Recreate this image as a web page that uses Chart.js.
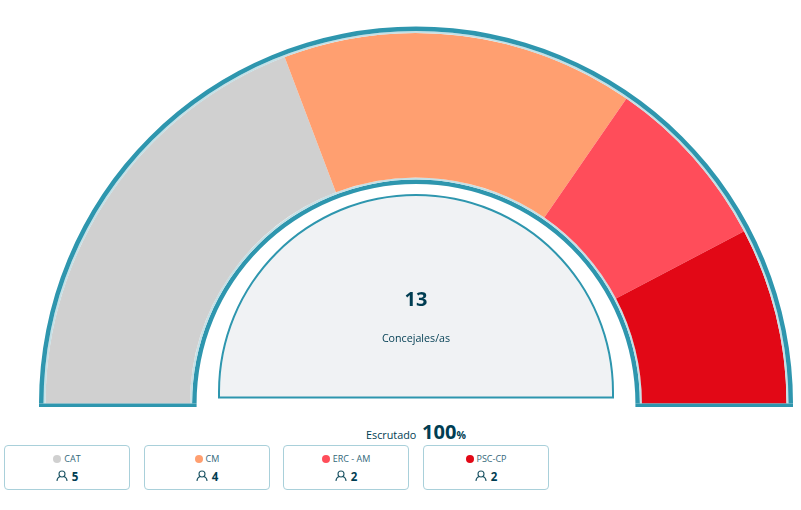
<!DOCTYPE html>
<html>
<head>
<meta charset="utf-8">
<script src="https://cdn.jsdelivr.net/npm/chart.js@4/dist/chart.umd.min.js"></script>
<style>
  html, body { margin: 0; padding: 0; background: #fff; }
  body { width: 801px; height: 510px; position: relative; overflow: hidden; font-family: "Open Sans", sans-serif; color: #003d52; }
  canvas { position: absolute; }
  #hemi { left: 39px; top: 26px; }
  #panel { left: 218px; top: 193px; }
  .abs { position: absolute; white-space: nowrap; }
  #total { left: 216px; width: 400px; top: 287px; text-align: center; font-size: 20px; font-weight: 700; line-height: 24px; }
  #caption { left: 216px; width: 400px; top: 330px; text-align: center; font-size: 10.7px; line-height: 16px; }
  #scrutiny { left: 366px; top: 420px; font-size: 10.8px; line-height: 24px; }
  #scrutiny b { font-size: 20px; margin-left: 3px; }
  #scrutiny span { font-size: 10.5px; font-weight: 700; }
  .card { position: absolute; top: 445px; width: 124px; height: 43px; border: 1px solid #a9d0da; border-radius: 4px; text-align: center; background: #fff; }
  .card .name { font-size: 9px; line-height: 12px; margin-top: 7px; color: #33677a; }
  .card .dot { display: inline-block; width: 8px; height: 8px; border-radius: 50%; margin-right: 3px; vertical-align: -1px; }
  .card .seats { font-size: 11.5px; font-weight: 700; line-height: 16px; margin-top: 4px; }
  .card svg { vertical-align: -1px; margin-right: 1px; }
</style>
</head>
<body>
<canvas id="hemi" width="754" height="381" style="width:754px;height:381px"></canvas>
<canvas id="panel" width="396" height="207" style="width:396px;height:207px"></canvas>
<div class="abs" id="total"></div>
<div class="abs" id="caption"></div>
<div class="abs" id="scrutiny"></div>
<div id="cards"></div>
<script>
const parties = ["CAT", "CM", "ERC - AM", "PSC-CP"];
const seats = [5, 4, 2, 2];
const partyColors = ["#d0d0d0", "#ff9f70", "#ff4d5a", "#e20816"];
const cardLeft = [4, 144, 283, 423];
const totalSeats = 13;
const scrutinyPct = 100;

const teal = "#2e96ae";
const paleBlue = "#c4e0e6";
const panelFill = "#f0f2f4";

// rings from the outside in, thickness in px
const rings = [
  { w: 4.5, color: teal },
  { w: 2, color: paleBlue },
  { w: 144.5, color: partyColors },
  { w: 2, color: paleBlue },
  { w: 4.5, color: teal }
];

function ringData(r) {
  return Array.isArray(r.color) ? seats : [totalSeats];
}

function arcsOf(chart) {
  return chart.getDatasetMeta(0).data[0];
}

// flat feet under the ring, taken from the arc elements themselves
const ringFoot = {
  id: "ringFoot",
  afterDraw(chart) {
    const ctx = chart.ctx;
    const top = arcsOf(chart);
    const bottom = chart.getDatasetMeta(rings.length - 1).data[0];
    const wide = top.outerRadius - bottom.innerRadius;
    ctx.save();
    ctx.fillStyle = teal;
    ctx.fillRect(top.x - top.outerRadius, top.y, wide, 3.5);
    ctx.fillRect(top.x + bottom.innerRadius, top.y, wide, 3.5);
    ctx.restore();
  }
};

// the panel goes straight down a few px before its bottom line
const panelFoot = {
  id: "panelFoot",
  afterDraw(chart) {
    const ctx = chart.ctx;
    const a = arcsOf(chart);
    const r = a.outerRadius;
    ctx.save();
    ctx.fillStyle = teal;
    ctx.fillRect(a.x - r, a.y, 2 * r, 6.5);
    ctx.fillStyle = panelFill;
    ctx.fillRect(a.x - r + 2, a.y - 1, 2 * r - 4, 5.5);
    ctx.restore();
  }
};

const hideAll = { legend: { display: false }, tooltip: { enabled: false } };

new Chart(document.getElementById("hemi"), {
  type: "doughnut",
  data: {
    labels: parties,
    datasets: rings.map(r => ({
      data: ringData(r),
      backgroundColor: r.color,
      borderWidth: 0,
      weight: r.w
    }))
  },
  options: {
    responsive: false,
    animation: false,
    rotation: -90,
    circumference: 180,
    cutout: "58.2%",
    layout: { padding: { bottom: 3 } },
    plugins: hideAll
  },
  plugins: [ringFoot]
});

new Chart(document.getElementById("panel"), {
  type: "doughnut",
  data: {
    labels: ["Concejales/as"],
    datasets: [
      { data: [totalSeats], backgroundColor: teal, borderWidth: 0, weight: 2 },
      { data: [totalSeats], backgroundColor: panelFill, borderWidth: 0, weight: 196 }
    ]
  },
  options: {
    responsive: false,
    animation: false,
    rotation: -90,
    circumference: 180,
    cutout: "0%",
    layout: { padding: { bottom: 7 } },
    plugins: hideAll
  },
  plugins: [panelFoot]
});

document.getElementById("total").textContent = totalSeats;
document.getElementById("caption").textContent = "Concejales/as";
document.getElementById("scrutiny").innerHTML = "Escrutado <b>" + scrutinyPct + "</b><span>%</span>";

const userIcon = '<svg width="12" height="12" viewBox="0 0 12 12" fill="none" stroke="#1f5666" stroke-width="1.1"><circle cx="6" cy="4" r="3"/><path d="M1 11c0-2.500 2-4 3-4.400M11 11c0-2.500-2-4-3-4.400"/></svg>';
let html = "";
for (let i = 0; i < parties.length; i++) {
  html += '<div class="card" style="left:' + cardLeft[i] + 'px"><div class="name"><span class="dot" style="background:' + partyColors[i] + '"></span>' + parties[i] + '</div><div class="seats">' + userIcon + ' ' + seats[i] + '</div></div>';
}
document.getElementById("cards").innerHTML = html;
</script>
</body>
</html>
